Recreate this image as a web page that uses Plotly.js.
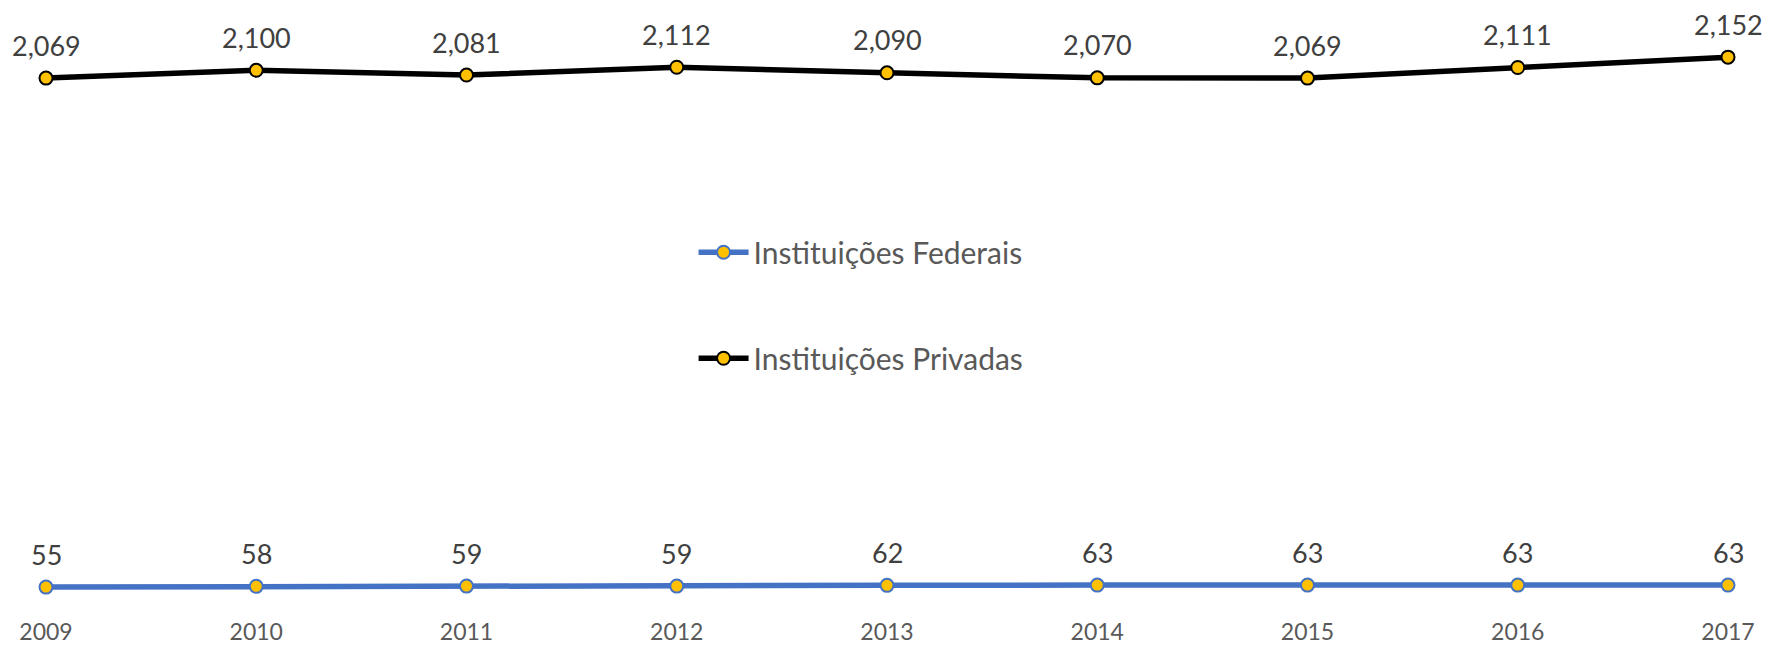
<!DOCTYPE html>
<html>
<head>
<meta charset="utf-8">
<script src="https://cdn.plot.ly/plotly-3.0.1.min.js"></script>
<style>html,body{margin:0;padding:0;background:#fff;}#chart{width:1778px;height:645px;}</style>
</head>
<body>
<div id="chart"></div>
<script>
const years = ["2009","2010","2011","2012","2013","2014","2015","2016","2017"];
const federais = [55, 58, 59, 59, 62, 63, 63, 63, 63];
const privadas = [2069, 2100, 2081, 2112, 2090, 2070, 2069, 2111, 2152];
const seriesNames = ["Instituições Federais", "Instituições Privadas"];

const fmt = v => v.toLocaleString('en-US');
const font = "Lato, 'Open Sans', sans-serif";

const traces = [
  {
    x: years, y: federais, name: seriesNames[0], type: 'scatter', mode: 'lines+markers',
    line: {color: '#4472C4', width: 5.5},
    marker: {color: '#FFC000', size: 13, line: {color: '#4472C4', width: 2}},
    cliponaxis: false, legendgroup: 'a'
  },
  {
    x: years, y: privadas, name: seriesNames[1], type: 'scatter', mode: 'lines+markers',
    line: {color: '#000000', width: 5.5},
    marker: {color: '#FFC000', size: 13, line: {color: '#000000', width: 2}},
    cliponaxis: false, legendgroup: 'b'
  }
];

const annotations = [];
[federais, privadas].forEach(series => {
  series.forEach((v, i) => {
    annotations.push({
      x: i, y: v, xref: 'x', yref: 'y', text: fmt(v), showarrow: false,
      yanchor: 'middle', xanchor: 'center', yshift: 33,
      font: {family: font, size: 27, color: '#404040'}
    });
  });
});

const layout = {
  width: 1778, height: 645,
  margin: {l: 46, r: 50, t: 45, b: 44},
  paper_bgcolor: '#ffffff', plot_bgcolor: '#ffffff',
  font: {family: font, color: '#595959'},
  showlegend: true,
  annotations: annotations,
  legend: {
    x: 0.385, y: 0.674, xanchor: 'left', yanchor: 'top',
    orientation: 'v', traceorder: 'grouped', tracegroupgap: 64,
    itemwidth: 50,
    font: {family: font, size: 30, color: '#595959'},
    bgcolor: 'rgba(0,0,0,0)'
  },
  xaxis: {
    type: 'category', range: [0, 8],
    showgrid: false, zeroline: false, showline: false,
    ticks: '', tickfont: {family: font, size: 23, color: '#595959'},
    ticklabelstandoff: 15
  },
  yaxis: {
    range: [0, 2200], visible: false, showgrid: false, zeroline: false
  }
};

Plotly.newPlot('chart', traces, layout, {displayModeBar: false, staticPlot: true});
</script>
</body>
</html>
